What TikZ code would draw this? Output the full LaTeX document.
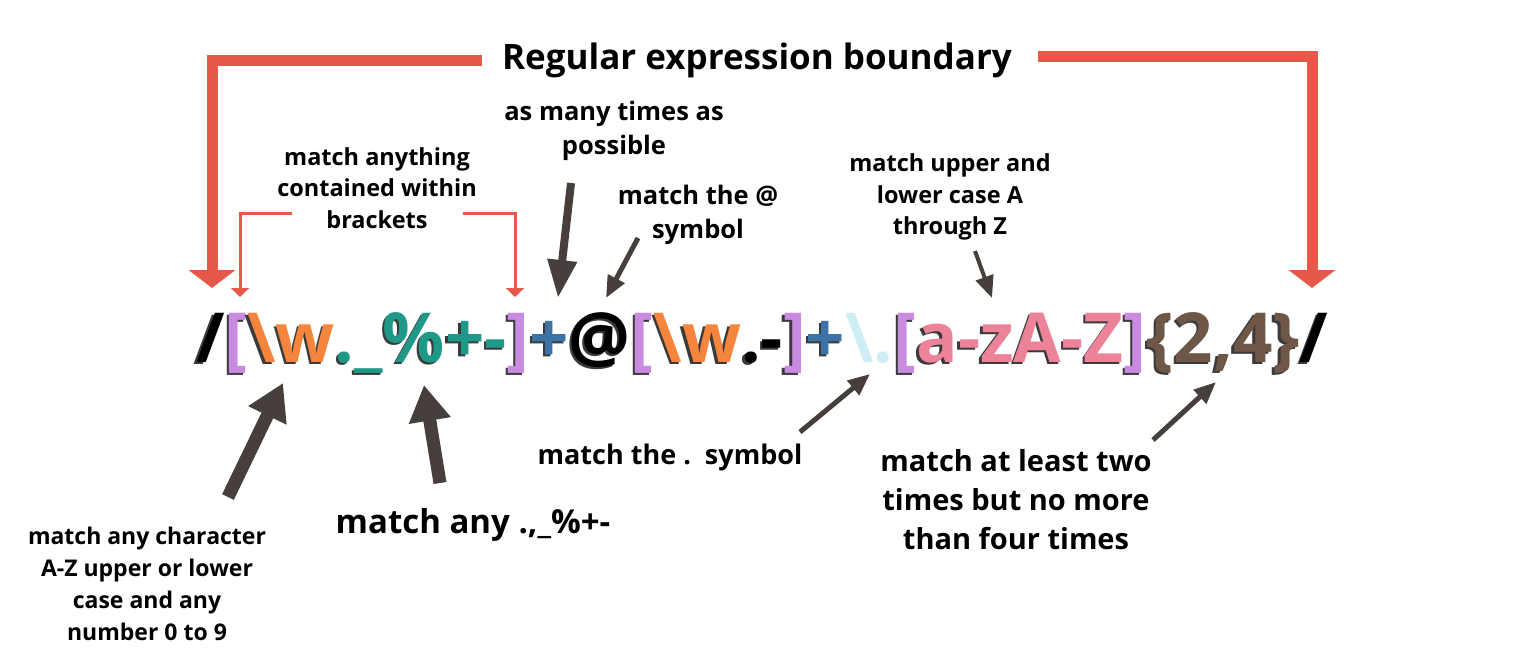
\documentclass[tikz,border=0pt]{standalone}
\usepackage{fontspec}
\setmainfont{Open Sans}
\usepackage{xcolor}
\usetikzlibrary{arrows.meta,positioning,calc}

\definecolor{boundred}{HTML}{E6594A}
\definecolor{pointer}{HTML}{463F3B}
\definecolor{brk}{HTML}{C98BE0}
\definecolor{wordc}{HTML}{F5843C}
\definecolor{symc}{HTML}{1E9988}
\definecolor{plusc}{HTML}{3B73A6}
\definecolor{dotc}{HTML}{CDEEF4}
\definecolor{rangec}{HTML}{EC8399}
\definecolor{countc}{HTML}{6F5748}
\definecolor{shadowc}{HTML}{3A3A3A}

% colour pieces of the expression, with a small drop shadow
\newcommand{\rxc}[2]{\rlap{\kern-2.5pt\raisebox{-2.5pt}{\textcolor{shadowc}{#2}}}\textcolor{#1}{#2}}
\newcommand{\rxn}[2]{\textcolor{#1}{#2}}
\newcommand{\regexbody}{\rxc{black}{/}\rxc{brk}{[}\rxc{wordc}{\textbackslash w}\rxc{symc}{.\_\%+-}\rxc{brk}{]}\rxc{plusc}{+}\rxc{black}{@}\rxc{brk}{[}\rxc{wordc}{\textbackslash w}\rxc{black}{.-}\rxc{brk}{]}\rxc{plusc}{+}\rxn{dotc}{\textbackslash.}\rxc{brk}{[}\rxc{rangec}{a-zA-Z}\rxc{brk}{]}\rxc{countc}{\{2,4\}}\rxc{black}{/}}

\begin{document}
\begin{tikzpicture}[x=1pt,y=-1pt,
    lbl/.style={align=center, inner sep=0pt, font=\fontsize{23.5}{31.5}\selectfont\bfseries},
    lblwide/.style={align=center, inner sep=0pt, font=\fontsize{25.5}{33.5}\selectfont\bfseries},
    lblsmall/.style={align=center, inner sep=0pt, font=\fontsize{23}{32}\selectfont\bfseries},
    lblmid/.style={align=center, inner sep=0pt, font=\fontsize{29}{39}\selectfont\bfseries},
    lblbig/.style={inner sep=0pt, font=\fontsize{33}{36}\selectfont\bfseries},
    rxtext/.style={inner sep=0pt, outer sep=0pt, anchor=base west, font=\fontsize{69}{70}\selectfont\bfseries},
    bigred/.style={draw=boundred, line width=11pt, -{Triangle[width=46pt,length=18pt]}},
    thinred/.style={draw=boundred, line width=3pt, -{Triangle[width=18pt,length=9pt]}},
    fatptr/.style={draw=pointer, line width=13pt, -{Triangle[width=40pt,length=36pt]}},
    midptr/.style={draw=pointer, line width=8pt, -{Triangle[width=28pt,length=38pt]}},
    thinptr/.style={draw=pointer, line width=5pt, -{Triangle[width=18pt,length=22pt]}}]
    \useasboundingbox[fill=white] (0,0) rectangle (1518,654);

    % Expression
    \node[rxtext] (regex) at (196,362) {\regexbody};

    % Boundary
    \node[inner sep=0pt, font=\fontsize{35}{38}\selectfont\bfseries] (title) at (757,60) {Regular expression boundary};
    \coordinate (bndL) at (212,288);
    \coordinate (bndR) at (1312,288);
    \draw[bigred] ([xshift=-20pt]title.west) -| (bndL);
    \draw[bigred] ([xshift=26pt,yshift=4pt]title.east) -| (bndR);

    % Brackets
    \node[lbl] (brackets) at (377,188) {match anything\\contained within\\brackets};
    \coordinate (brkL) at (240,297);
    \coordinate (brkR) at (515,297);
    \draw[thinred] (292,213) -| (brkL);
    \draw[thinred] (463,213) -| (brkR);

    % Top pointers
    \node[lblwide] (many) at (614,131) {as many times as\\possible};
    \coordinate (manyT) at (571,183);
    \coordinate (manyH) at (558,298);
    \draw[midptr] (manyT) -- (manyH);

    \node[lblwide] (atsym) at (698,215) {match the @\\symbol};
    \coordinate (atT) at (638,238);
    \coordinate (atH) at (606,298);
    \draw[thinptr] (atT) -- (atH);

    \node[lbl] (upper) at (950,197) {match upper and\\lower case A\\through Z};
    \coordinate (upT) at (975,251);
    \coordinate (upH) at (992,298);
    \draw[thinptr, line width=4pt] (upT) -- (upH);

    % Bottom pointers
    \node[lblsmall] (wchar) at (147,584) {match any character\\A-Z upper or lower\\case and any\\number 0 to 9};
    \coordinate (wT) at (228,497);
    \coordinate (wH) at (283,383);
    \draw[fatptr] (wT) -- (wH);

    \node[lblbig] (anysym) at (473,525) {match any .,\_\%+-};
    \coordinate (symT) at (440,483);
    \coordinate (symH) at (424,385);
    \draw[fatptr] (symT) -- (symH);

    \node[lblwide, font=\fontsize{27}{30}\selectfont\bfseries] (dotsym) at (670,457) {match the .\ \ symbol};
    \coordinate (dotT) at (800,432);
    \coordinate (dotH) at (870,374);
    \draw[thinptr] (dotT) -- (dotH);

    \node[lblmid] (count) at (1016,500) {match at least two\\times but no more\\than four times};
    \coordinate (cntT) at (1153,440);
    \coordinate (cntH) at (1216,382);
    \draw[thinptr] (cntT) -- (cntH);
\end{tikzpicture}
\end{document}
